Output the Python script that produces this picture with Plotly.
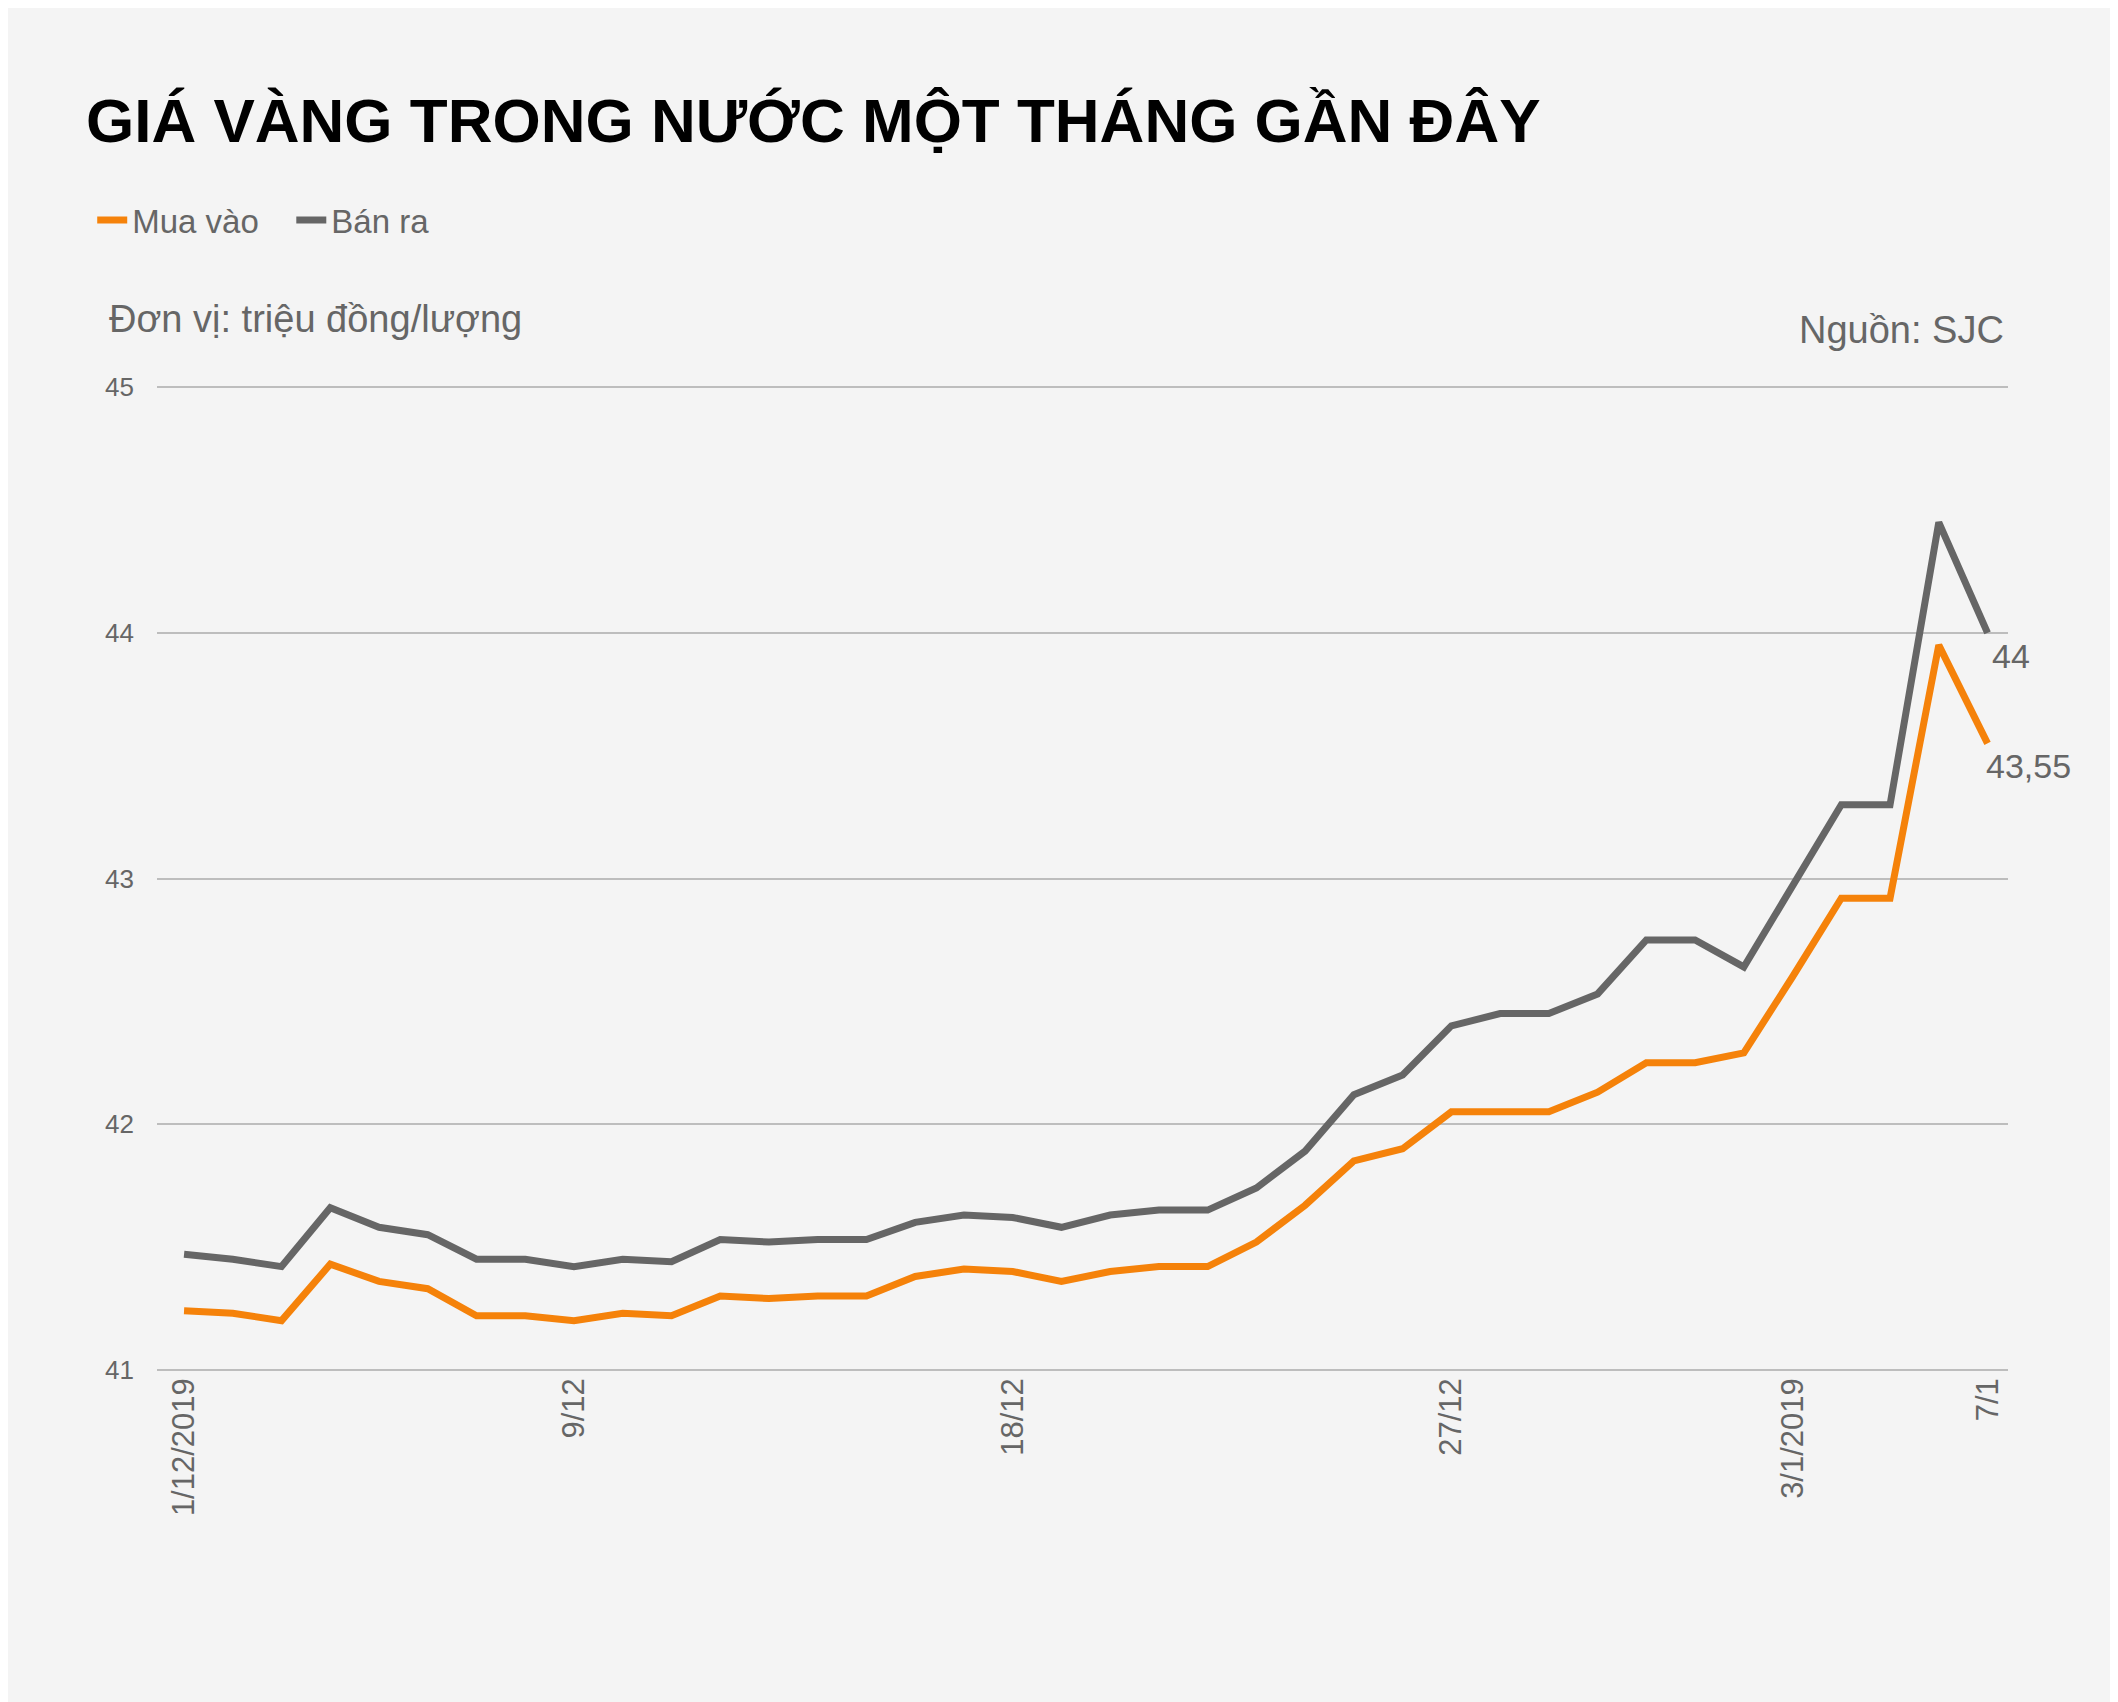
import plotly.graph_objects as go

# daily prices, 1/12/2019 .. 7/1/2020 (triệu đồng/lượng)
days = list(range(38))
mua_vao = [41.24, 41.23, 41.20, 41.43, 41.36, 41.33, 41.22, 41.22, 41.20, 41.23,
           41.22, 41.30, 41.29, 41.30, 41.30, 41.38, 41.41, 41.40, 41.36, 41.40,
           41.42, 41.42, 41.52, 41.67, 41.85, 41.90, 42.05, 42.05, 42.05, 42.13,
           42.25, 42.25, 42.29, 42.60, 42.92, 42.92, 43.95, 43.55]
ban_ra = [41.47, 41.45, 41.42, 41.66, 41.58, 41.55, 41.45, 41.45, 41.42, 41.45,
          41.44, 41.53, 41.52, 41.53, 41.53, 41.60, 41.63, 41.62, 41.58, 41.63,
          41.65, 41.65, 41.74, 41.89, 42.12, 42.20, 42.40, 42.45, 42.45, 42.53,
          42.75, 42.75, 42.64, 42.97, 43.30, 43.30, 44.45, 44.00]
tick_pos = [0, 8, 17, 26, 33, 37]
tick_text = ["1/12/2019", "9/12", "18/12", "27/12", "3/1/2019", "7/1"]

ORANGE = "#f5820a"
GREY = "#666666"
FONT = "Liberation Sans, Arial, sans-serif"

fig = go.Figure()
fig.add_trace(go.Scatter(x=days, y=mua_vao, mode="lines", name="Mua vào   ",
                         line=dict(color=ORANGE, width=7)))
fig.add_trace(go.Scatter(x=days, y=ban_ra, mode="lines", name="Bán ra",
                         line=dict(color=GREY, width=7)))

# end labels
fig.add_annotation(x=days[-1], y=ban_ra[-1], text="44", showarrow=False,
                   xanchor="left", yanchor="top", xshift=2, yshift=-2,
                   font=dict(size=34, color=GREY))
fig.add_annotation(x=days[-1], y=mua_vao[-1], text="43,55", showarrow=False,
                   xanchor="left", yanchor="top", xshift=-4, yshift=-2,
                   font=dict(size=34, color=GREY))

fig.add_annotation(xref="paper", yref="paper", x=-0.027, y=1.068, text="Đơn vị: triệu đồng/lượng",
                   showarrow=False, xanchor="left", yanchor="middle",
                   font=dict(size=38, color=GREY))
fig.add_annotation(xref="paper", yref="paper", x=0.999, y=1.057, text="Nguồn: SJC",
                   showarrow=False, xanchor="right", yanchor="middle",
                   font=dict(size=38, color=GREY))

fig.update_layout(
    width=2118, height=1702,
    paper_bgcolor="#f4f4f4", plot_bgcolor="#f4f4f4",
    font=dict(family=FONT, color=GREY),
    margin=dict(l=149, r=118, t=378, b=339),
    title=dict(text="<b>GIÁ VÀNG TRONG NƯỚC MỘT THÁNG GẦN ĐÂY</b>",
               x=78 / 2118, xanchor="left", y=1 - 112 / 1702, yanchor="middle",
               font=dict(size=62, color="black", family=FONT)),
    legend=dict(orientation="h", x=-0.035, xanchor="left", y=1 - 212 / 1702,
                yref="container", yanchor="middle",
                font=dict(size=33, color=GREY), itemwidth=30,
                bgcolor="rgba(0,0,0,0)"),
    showlegend=True,
    xaxis=dict(range=[-0.555, 37.42], tickvals=tick_pos, ticktext=tick_text,
               tickangle=-90, showgrid=False, zeroline=False, showline=False,
               ticks="", tickfont=dict(size=31, color=GREY)),
    yaxis=dict(range=[40.995, 45.005], tickvals=[41, 42, 43, 44, 45], showgrid=True,
               gridcolor="#bdbdbd", gridwidth=2, zeroline=False, showline=False,
               ticks="", ticklabelstandoff=22, tickfont=dict(size=26, color=GREY)),
)

fig.write_html("out.html")
